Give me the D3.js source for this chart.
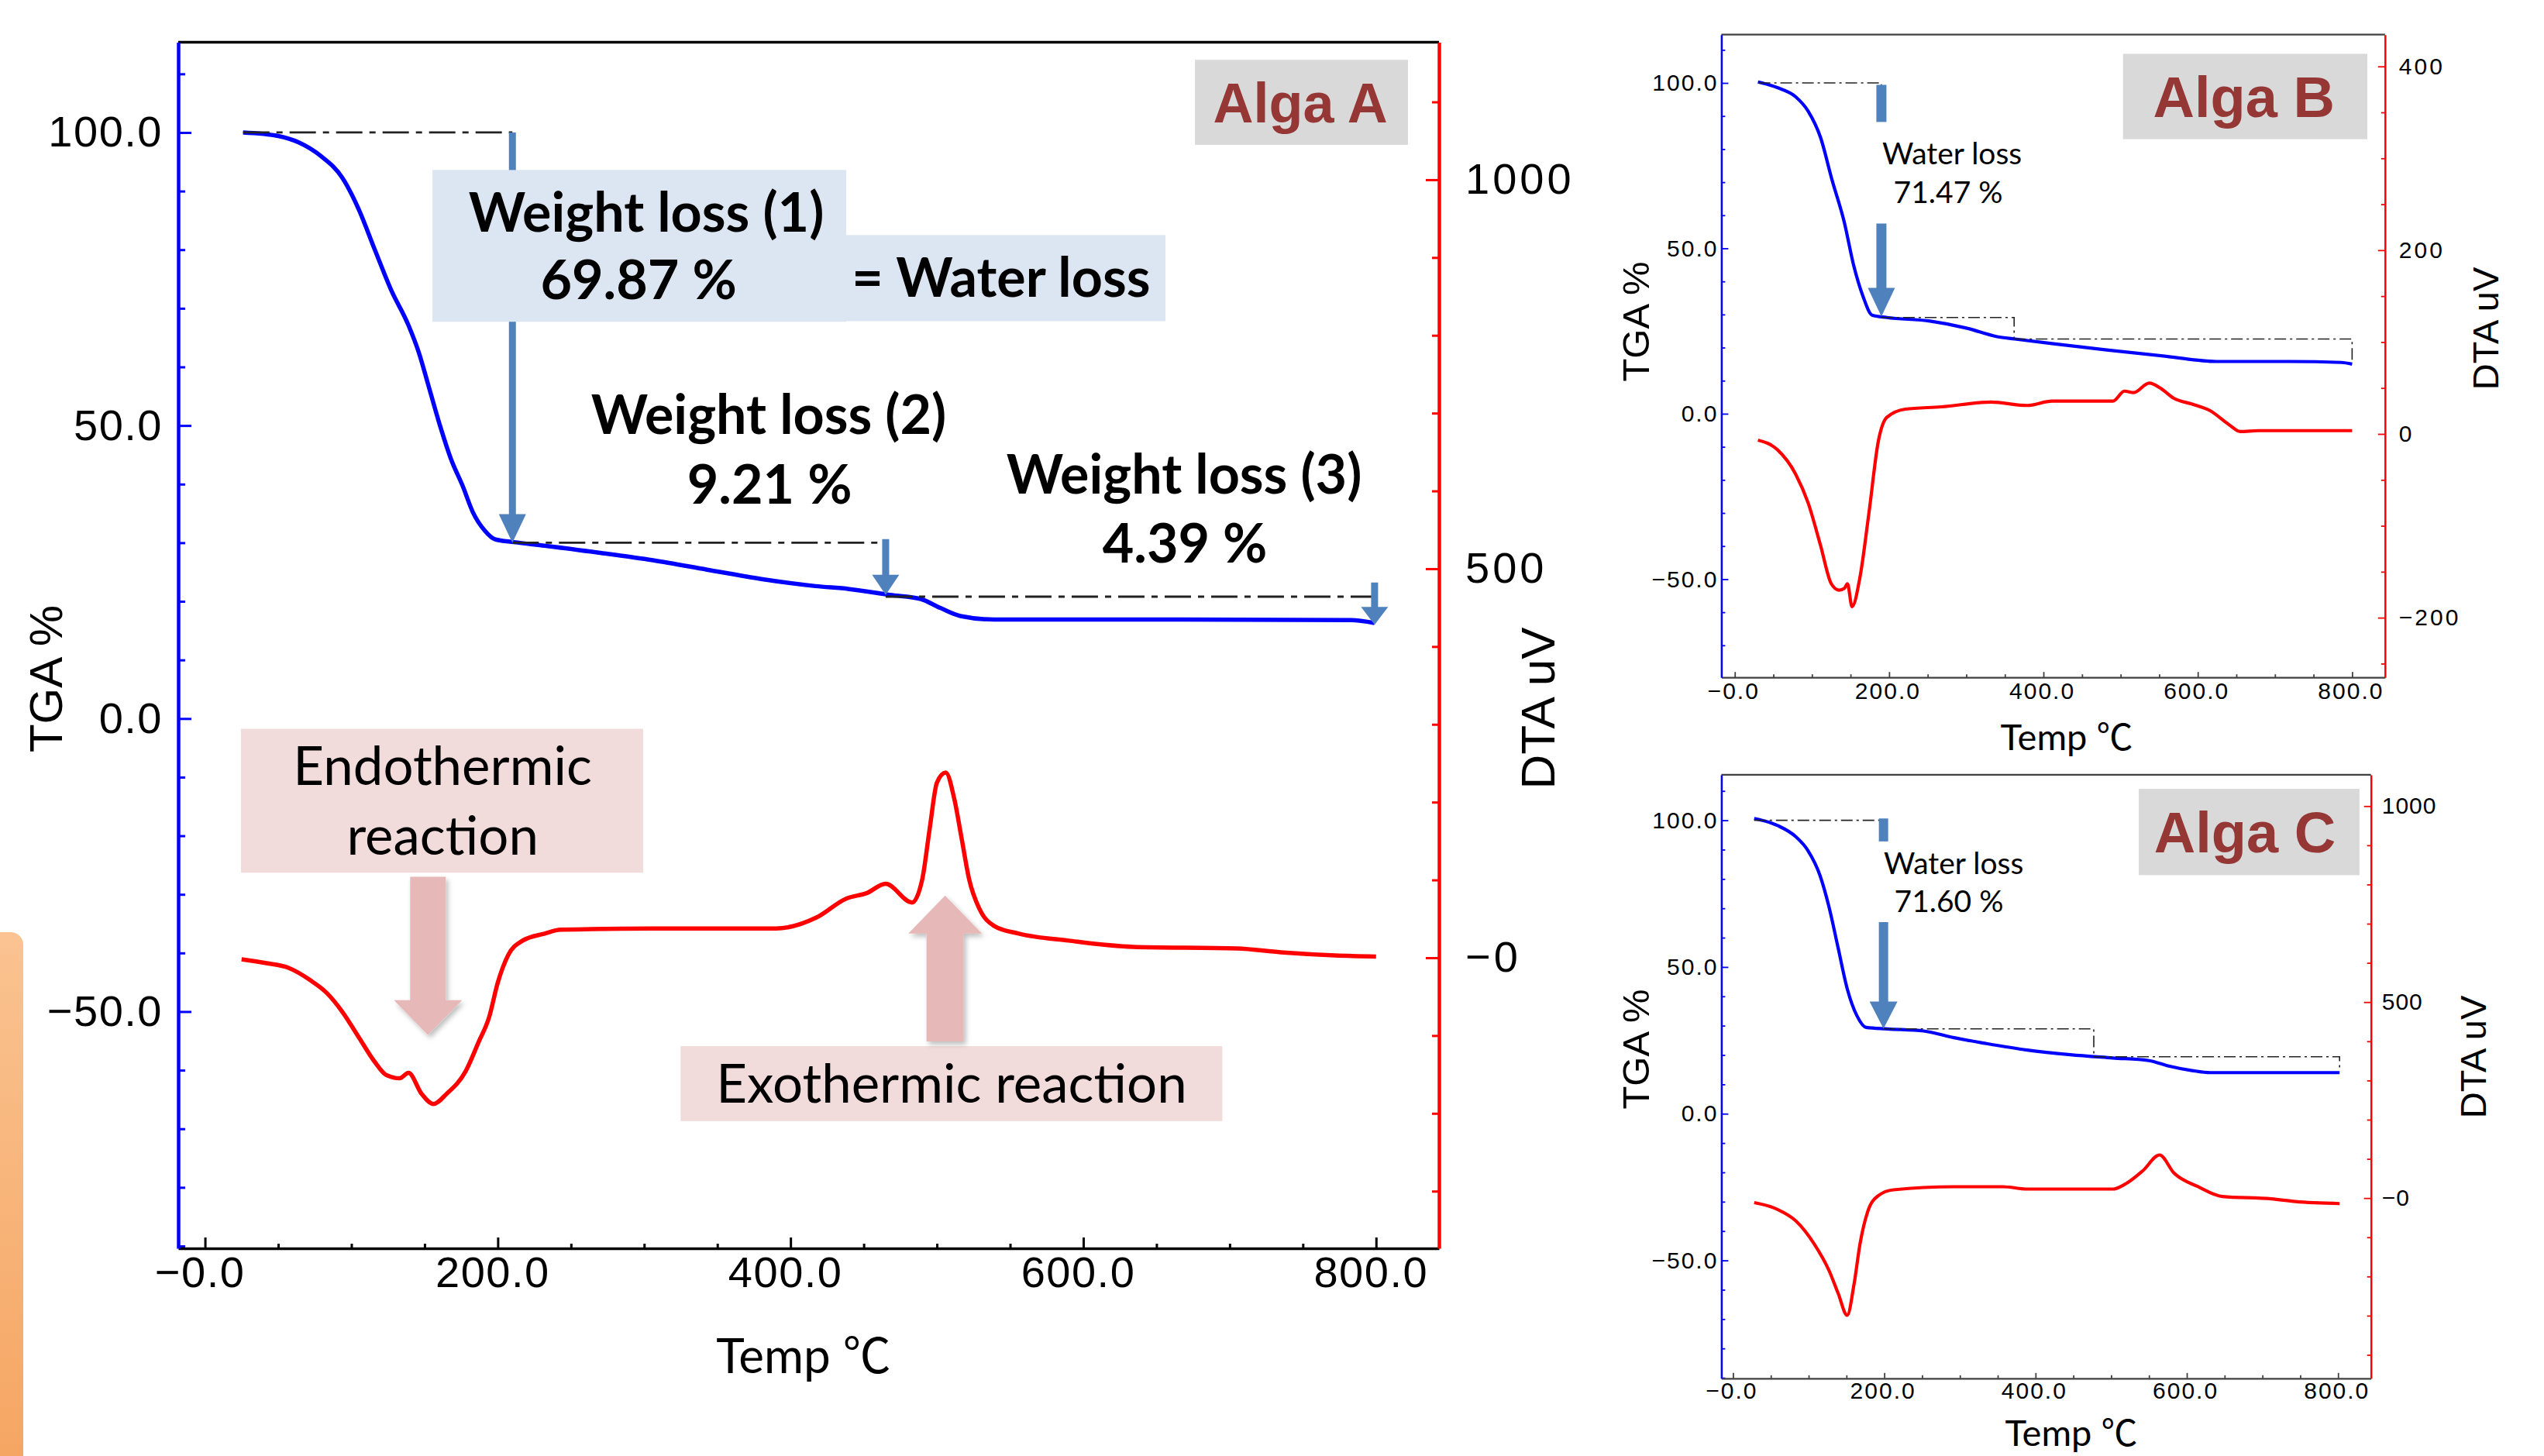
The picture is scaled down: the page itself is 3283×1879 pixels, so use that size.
<!DOCTYPE html>
<html>
<head>
<meta charset="utf-8">
<script src="https://cdn.jsdelivr.net/npm/d3@7"></script>
<style>
  body { margin: 0; background: #fff; }
  svg { display: block; }
</style>
</head>
<body>
<svg id="chart" width="3283" height="1879"></svg>
<script>
const xTicks = [0, 200, 400, 600, 800];
const xTickLabels = ["\u22120.0", "200.0", "400.0", "600.0", "800.0"];
const tgaTicks = [100, 50, 0, -50];
const tgaTickLabels = ["100.0", "50.0", "0.0", "\u221250.0"];

// Alga A
const tgaA = [[26,100],[50,99.4],[64,98.3],[79,96],[94,92.2],[105,86.9],[116,80],[127,73.2],[139,67.1],
  [146,62.5],[153,56.5],[161,49.6],[168,44.3],[176,39.7],[183,35.2],[191,32.1],[198,30.6],[211,30.1],
  [232,29.5],[269,28.3],[306,27.0],[343,25.4],[380,23.8],[417,22.6],[440,22.1],[468,21.1],[489,20.4],
  [502,18.9],[516,17.5],[539,16.9],[650,16.9],[783,16.8],[799,16.3]];
const dtaA = [[25,-2],[42,-7],[57,-13],[72,-29],[83,-45],[94,-70],[105,-102],[116,-134],[124,-151],
  [133,-155],[139,-148],[148,-175],[156,-188],[165,-175],[178,-146],[187,-108],[194,-77],[200,-32],
  [207,3],[217,22],[232,31],[243,36],[306,37.6],[390,37.6],[418,52],[438,76],[452,83],[465,95],
  [483,71],[490,101],[495,165],[500,225],[506,238],[512,203],[517,152],[522,101],[529,63],[539,41],
  [556,31],[590,22],[634,14],[705,12],[735,7],[772,3],[800,1.5]];
const dtaTicksA = [1000, 500, 0];
const dtaTickLabelsA = ["1000", "500", "\u22120"];
const stepsA = [[[26,100],[210,100]], [[210,30.0],[465,30.0]], [[465,20.8],[799,20.8]]];
const arrowsA = [[210,100,30.0], [465,30.6,21.1], [799,23.2,16.0]];   // [temp, from %, to %]
const lossTextA = ["Weight loss (1)", "69.87 %", "= Water loss", "Weight loss (2)", "9.21 %", "Weight loss (3)", "4.39 %"];

// Alga B
const tgaB = [[30,100.3],[55,98.6],[79,95.8],[95,91.5],[111,83.6],[126,70.7],[142,57.8],[154,44.9],
  [166,35.6],[178,29.8],[197,29.1],[253,28],[300,25.9],[340,23.3],[363,22.6],[411,21.2],[482,19.3],
  [561,17.3],[624,15.8],[719,15.8],[786,15.5],[800,15.0]];
const dtaB = [[30,-6.7],[55,-17],[79,-44],[95,-75],[111,-121],[125,-163],[135,-170],[142,-168],
  [146,-163],[152,-188],[162,-157],[174,-85],[186,-8],[197,18],[221,27],[268,29.5],[332,34.7],
  [379,31],[411,35.7],[490,35.7],[505,46.6],[517,45],[537,55.3],[553,49],[569,38.8],[592,32.6],
  [616,25.3],[640,10.4],[655,2.6],[679,3.6],[800,3.6]];
const dtaTicksB = [400, 200, 0, -200];
const dtaTickLabelsB = ["400", "200", "0", "\u2212200"];
const stepsB = [[[31,100],[190,100],[190,99]], [[190,29.1],[362,29.1],[362,22.6]], [[362,22.6],[800,22.6],[800,16.2]]];
const arrowsB = [[190,99.4,29.4]];
const arrowGapB = [88.2, 57.5];
const lossTextB = ["Water loss", "71.47 %"];

// Alga C
const tgaC = [[28,100.6],[59,98.2],[83,94.4],[99,89.7],[115,81.2],[127,70.4],[139,56.5],[151,42.6],
  [164,33.3],[176,29.4],[204,28.9],[252,28.2],[292,25.9],[333,24],[389,21.7],[446,20.1],[502,19],
  [550,18.1],[575,16.3],[607,14.7],[631,14],[802,14]];
const dtaC = [[28,-11.6],[59,-29],[83,-58],[107,-116],[127,-185],[139,-243],[151,-299],[160,-220],
  [168,-116],[178,-35],[192,6],[212,21],[292,29],[357,29],[389,23],[502,23],[518,35],[542,70],
  [564,110],[583,64],[615,29],[647,4],[712,-2],[744,-9],[802,-14]];
const dtaTicksC = [1000, 500, 0];
const dtaTickLabelsC = ["1000", "500", "\u22120"];
const stepsC = [[[28,100],[199,100]], [[199,28.9],[477,28.9],[477,19.4]], [[477,19.4],[802,19.4],[802,15]]];
const arrowsC = [[199,100.6,29.0]];
const arrowGapC = [92.8, 65.3];
const lossTextC = ["Water loss", "71.60 %"];

const svg = d3.select("#chart");
svg.append("rect").attr("width", 3283).attr("height", 1879).attr("fill", "#fff");

const defs = svg.append("defs");
const grad = defs.append("linearGradient").attr("id", "orange").attr("x1", 0).attr("y1", 0).attr("x2", 0).attr("y2", 1);
grad.append("stop").attr("offset", "0%").attr("stop-color", "#fac391");
grad.append("stop").attr("offset", "100%").attr("stop-color", "#f5a460");
defs.append("filter").attr("id", "shadow").attr("x", "-30%").attr("y", "-30%").attr("width", "160%").attr("height", "160%")
  .append("feDropShadow").attr("dx", 3).attr("dy", 4).attr("stdDeviation", 3)
  .attr("flood-color", "#000").attr("flood-opacity", 0.25);

// slide decoration at the left edge
svg.append("rect").attr("x", -20).attr("y", 1203).attr("width", 50).attr("height", 720)
  .attr("rx", 16).attr("fill", "url(#orange)");

const tickFont = "'Liberation Sans', Arial, sans-serif";
const noteFont = "Lato, 'Noto Sans CJK JP', sans-serif";

function arrowPath(cx, yFrom, yTip, shaftW, headW, headH) {
  const dir = yTip > yFrom ? 1 : -1;
  const base = yTip - dir * headH;
  return `M${cx - shaftW / 2},${yFrom}L${cx + shaftW / 2},${yFrom}L${cx + shaftW / 2},${base}` +
    `L${cx + headW / 2},${base}L${cx},${yTip}L${cx - headW / 2},${base}L${cx - shaftW / 2},${base}Z`;
}

function panel(p) {
  const x = d3.scaleLinear().domain(p.xDomain).range([p.left, p.right]);
  const yT = d3.scaleLinear().domain(p.tgaDomain).range([p.bottom, p.top]);
  const yD = d3.scaleLinear().domain(p.dtaDomain).range([p.bottom, p.top]);
  const g = svg.append("g");

  const styleText = (sel, size, ls) => sel.selectAll("text")
    .attr("fill", "#000").attr("font-family", tickFont).attr("font-size", size).attr("letter-spacing", ls);

  // top border
  g.append("line").attr("x1", p.left).attr("x2", p.right).attr("y1", p.top).attr("y2", p.top)
    .attr("stroke", p.frame).attr("stroke-width", p.frameW);

  // minor ticks
  const minor = (axis, tx, ty, color, len) => {
    g.append("g").attr("transform", `translate(${tx},${ty})`).attr("color", color)
      .call(axis.tickFormat("").tickSizeInner(-len).tickSizeOuter(0))
      .call(a => a.select(".domain").remove())
      .selectAll("line").attr("stroke-width", p.tickW);
  };
  minor(d3.axisLeft(yT).tickValues(p.tgaMinor), p.left, 0, "#0000ff", p.minorLen);
  minor(d3.axisRight(yD).tickValues(p.dtaMinor), p.right, 0, "#ff0000", p.minorLen);
  minor(d3.axisBottom(x).tickValues(p.xMinor), 0, p.bottom, p.frame, p.xMinorLen);

  // bottom axis
  g.append("g").attr("transform", `translate(0,${p.bottom})`).attr("color", p.frame)
    .call(d3.axisBottom(x).tickValues(xTicks).tickFormat((d, i) => xTickLabels[i])
      .tickSizeInner(-p.xMajorLen).tickSizeOuter(0).tickPadding(p.padB))
    .call(a => a.select(".domain").attr("stroke-width", p.frameW))
    .call(a => a.selectAll(".tick line").attr("stroke-width", p.tickW))
    .call(a => styleText(a, p.tickSize, p.tickLS).attr("dx", p.xLabelDx));

  // left TGA axis
  g.append("g").attr("transform", `translate(${p.left},0)`).attr("color", "#0000ff")
    .call(d3.axisLeft(yT).tickValues(tgaTicks).tickFormat((d, i) => tgaTickLabels[i])
      .tickSizeInner(-p.majorLen).tickSizeOuter(0).tickPadding(p.padL))
    .call(a => a.select(".domain").attr("stroke-width", p.sideW))
    .call(a => a.selectAll(".tick line").attr("stroke-width", p.tickW))
    .call(a => styleText(a, p.tickSize, p.tickLS));

  // right DTA axis
  g.append("g").attr("transform", `translate(${p.right},0)`).attr("color", "#ff0000")
    .call(d3.axisRight(yD).tickValues(p.dtaTicks).tickFormat((d, i) => p.dtaLabels[i])
      .tickSizeInner(-p.majorLen).tickSizeOuter(0).tickPadding(p.padR))
    .call(a => a.select(".domain").attr("stroke-width", p.sideW))
    .call(a => a.selectAll(".tick line").attr("stroke-width", p.tickW))
    .call(a => styleText(a, p.rightSize, p.rightLS));

  // axis titles
  const title = (tx, ty, rot, txt, size, fam) => g.append("text")
    .attr("transform", `translate(${tx},${ty}) rotate(${rot})`).attr("text-anchor", "middle")
    .attr("font-family", fam).attr("font-size", size).attr("fill", "#000").text(txt);
  title(p.tgaTitle[0], p.tgaTitle[1], -90, "TGA %", p.titleSize, tickFont);
  title(p.dtaTitle[0], p.dtaTitle[1], -90, "DTA uV", p.dtaTitleSize, tickFont);
  title(p.tempTitle[0], p.tempTitle[1], 0, "Temp \u2103", p.tempSize, noteFont);

  // curves
  const lineT = d3.line().x(d => x(d[0])).y(d => yT(d[1])).curve(d3.curveMonotoneX);
  const lineD = d3.line().x(d => x(d[0])).y(d => yD(d[1])).curve(d3.curveMonotoneX);
  const lineStep = d3.line().x(d => x(d[0])).y(d => yT(d[1]));
  g.append("path").datum(p.tga).attr("d", lineT).attr("fill", "none")
    .attr("stroke", "#0000ff").attr("stroke-width", p.lineW).attr("stroke-linejoin", "round");
  g.append("path").datum(p.dta).attr("d", lineD).attr("fill", "none")
    .attr("stroke", "#ff0000").attr("stroke-width", p.lineW).attr("stroke-linejoin", "round");

  // dash-dot step lines
  g.selectAll(null).data(p.steps).join("path").attr("d", lineStep).attr("fill", "none")
    .attr("stroke", "#222").attr("stroke-width", p.dashW).attr("stroke-dasharray", p.dash);

  // weight loss arrows
  g.selectAll(null).data(p.arrows).join("path")
    .attr("d", (d, i) => arrowPath(x(d[0]), yT(d[1]), yT(d[2]), p.arrowShaft, p.arrowHead, p.arrowHeadH[i]))
    .attr("fill", "#4f81bd");
  if (p.gap) {
    // the label sits on a white patch over the shaft
    const a = p.arrows[0];
    g.append("rect").attr("x", x(a[0]) - 20).attr("width", 40)
      .attr("y", yT(p.gap[0])).attr("height", yT(p.gap[1]) - yT(p.gap[0])).attr("fill", "#fff");
  }

  // sample name
  const t = p.name;
  g.append("rect").attr("x", x(t.t0)).attr("y", yT(t.w0))
    .attr("width", x(t.t1) - x(t.t0)).attr("height", yT(t.w1) - yT(t.w0)).attr("fill", "#d9d9d9");
  g.append("text").attr("x", x(t.tc)).attr("y", yT(t.wb)).attr("text-anchor", "middle")
    .attr("font-family", tickFont).attr("font-weight", "bold").attr("font-size", t.size)
    .attr("fill", "#953735").text(t.label);

  if (p.extra) p.extra(g, x, yT);
}

function note(g, x, y, t, w, txt, size, weight, anchor) {
  g.append("text").attr("x", x(t)).attr("y", y(w)).attr("text-anchor", anchor || "middle")
    .attr("font-family", noteFont).attr("font-weight", weight).attr("font-size", size)
    .attr("fill", "#000").text(txt);
}
function box(g, x, y, b, fill) {
  g.append("rect").attr("x", x(b[0])).attr("y", y(b[2]))
    .attr("width", x(b[1]) - x(b[0])).attr("height", y(b[3]) - y(b[2])).attr("fill", fill);
}

// ---- Alga A ----
panel({
  left: 230, right: 1857, top: 54.5, bottom: 1611,
  xDomain: [-18.3, 843], tgaDomain: [-90.4, 115.4], dtaDomain: [-373.5, 1176.7],
  tgaMinor: d3.range(-90, 115, 10).filter(v => v % 50 !== 0),
  dtaMinor: d3.range(-300, 1101, 100).filter(v => v % 500 !== 0),
  xMinor: d3.range(50, 800, 50).filter(v => v % 200 !== 0),
  dtaTicks: dtaTicksA, dtaLabels: dtaTickLabelsA,
  frame: "#000", frameW: 3.5, sideW: 4.5, tickW: 3,
  majorLen: 17, minorLen: 9, xMajorLen: 14, xMinorLen: 6,
  tickSize: 56, tickLS: 1.5, rightSize: 56, rightLS: 4,
  padL: 20, padR: 34, padB: 10, xLabelDx: -7,
  tgaTitle: [80, 876], dtaTitle: [2006, 914], tempTitle: [1037, 1772],
  titleSize: 60, dtaTitleSize: 62, tempSize: 62,
  tga: tgaA, dta: dtaA, lineW: 5.5,
  steps: stepsA, dashW: 2.8, dash: "34,9,8,9",
  arrows: arrowsA, arrowShaft: 9, arrowHead: 35, arrowHeadH: [37, 26, 23],
  name: { label: "Alga A", t0: 676.3, t1: 821.8, w0: 112.4, w1: 97.9, tc: 748.3, wb: 101.7, size: 72 },
  extra: (g, x, y) => {
    box(g, x, y, [155.4, 438.1, 93.6, 67.7], "#dce6f2");
    box(g, x, y, [437.5, 656.1, 82.5, 67.8], "#dce6f2");
    box(g, x, y, [24.5, 299.3, -1.75, -26.3], "#f2dcdb");
    box(g, x, y, [324.9, 695, -55.9, -68.7], "#f2dcdb");
    note(g, x, y, 301.5, 83.1, lossTextA[0], 70, "bold");
    note(g, x, y, 296.2, 71.6, lossTextA[1], 70, "bold");
    note(g, x, y, 441.8, 71.9, lossTextA[2], 70, "bold", "start");
    note(g, x, y, 385.1, 48.6, lossTextA[3], 70, "bold");
    note(g, x, y, 385.7, 36.7, lossTextA[4], 70, "bold");
    note(g, x, y, 668.9, 38.4, lossTextA[5], 70, "bold");
    note(g, x, y, 669.4, 26.6, lossTextA[6], 70, "bold");
    note(g, x, y, 162.3, -11.3, "Endothermic", 69, "normal");
    note(g, x, y, 162.3, -23.2, "reaction", 69, "normal");
    note(g, x, y, 510, -65.5, "Exothermic reaction", 69, "normal");
    // heat flow arrows
    g.append("path").attr("d", arrowPath(x(152.3), y(-27.0), y(-54.0), 46, 88, 45))
      .attr("fill", "#e6b9b8").attr("filter", "url(#shadow)");
    g.append("path").attr("d", arrowPath(x(505.6), y(-55.1), y(-30.2), 48, 95, 49))
      .attr("fill", "#e6b9b8").attr("filter", "url(#shadow)");
  }
});

// ---- Alga B ----
panel({
  left: 2221.4, right: 3077.8, top: 44.7, bottom: 874.2,
  xDomain: [-17.4, 842.6], tgaDomain: [-79.7, 114.6], dtaDomain: [-265, 434.6],
  tgaMinor: d3.range(-70, 115, 10).filter(v => v % 50 !== 0),
  dtaMinor: d3.range(-250, 401, 50).filter(v => v % 200 !== 0),
  xMinor: d3.range(50, 800, 50).filter(v => v % 200 !== 0),
  dtaTicks: dtaTicksB, dtaLabels: dtaTickLabelsB,
  frame: "#404040", frameW: 2.2, sideW: 2.5, tickW: 1.8,
  majorLen: 9, minorLen: 5, xMajorLen: 7, xMinorLen: 4,
  tickSize: 30, tickLS: 2, rightSize: 30, rightLS: 3,
  padL: 4, padR: 18, padB: 7, xLabelDx: -2,
  tgaTitle: [2128, 415], dtaTitle: [3224, 424], tempTitle: [2667, 968],
  titleSize: 49, dtaTitleSize: 47, tempSize: 47,
  tga: tgaB, dta: dtaB, lineW: 4.2,
  steps: stepsB, dashW: 1.6, dash: "15,5,3,5",
  arrows: arrowsB, arrowShaft: 13, arrowHead: 35, arrowHeadH: [37],
  gap: arrowGapB,
  name: { label: "Alga B", t0: 503.1, t1: 819.7, w0: 108.8, w1: 83, tc: 659.7, wb: 89.6, size: 74 },
  extra: (g, x, y) => {
    note(g, x, y, 191.1, 75.3, lossTextB[0], 39, "normal", "start");
    note(g, x, y, 276.5, 63.6, lossTextB[1], 39, "normal");
  }
});

// ---- Alga C ----
panel({
  left: 2221.4, right: 3059.7, top: 999.9, bottom: 1778.8,
  xDomain: [-15.4, 843.5], tgaDomain: [-90.2, 115.5], dtaDomain: [-459.9, 1079.8],
  tgaMinor: d3.range(-90, 115, 10).filter(v => v % 50 !== 0),
  dtaMinor: d3.range(-400, 1001, 100).filter(v => v % 500 !== 0),
  xMinor: d3.range(50, 800, 50).filter(v => v % 200 !== 0),
  dtaTicks: dtaTicksC, dtaLabels: dtaTickLabelsC,
  frame: "#404040", frameW: 2.2, sideW: 2.5, tickW: 1.8,
  majorLen: 9, minorLen: 5, xMajorLen: 7, xMinorLen: 4,
  tickSize: 30, tickLS: 2, rightSize: 30, rightLS: 1,
  padL: 4, padR: 14, padB: 5, xLabelDx: -2,
  tgaTitle: [2128, 1354], dtaTitle: [3208, 1364], tempTitle: [2673, 1866],
  titleSize: 49, dtaTitleSize: 47, tempSize: 47,
  tga: tgaC, dta: dtaC, lineW: 4.2,
  steps: stepsC, dashW: 1.6, dash: "15,5,3,5",
  arrows: arrowsC, arrowShaft: 12, arrowHead: 36, arrowHeadH: [35],
  gap: arrowGapC,
  name: { label: "Alga C", t0: 536.5, t1: 828.3, w0: 110.7, w1: 81.3, tc: 676.8, wb: 89, size: 74 },
  extra: (g, x, y) => {
    note(g, x, y, 199.4, 81.8, lossTextC[0], 39, "normal", "start");
    note(g, x, y, 285.4, 68.6, lossTextC[1], 39, "normal");
  }
});
</script>
</body>
</html>
